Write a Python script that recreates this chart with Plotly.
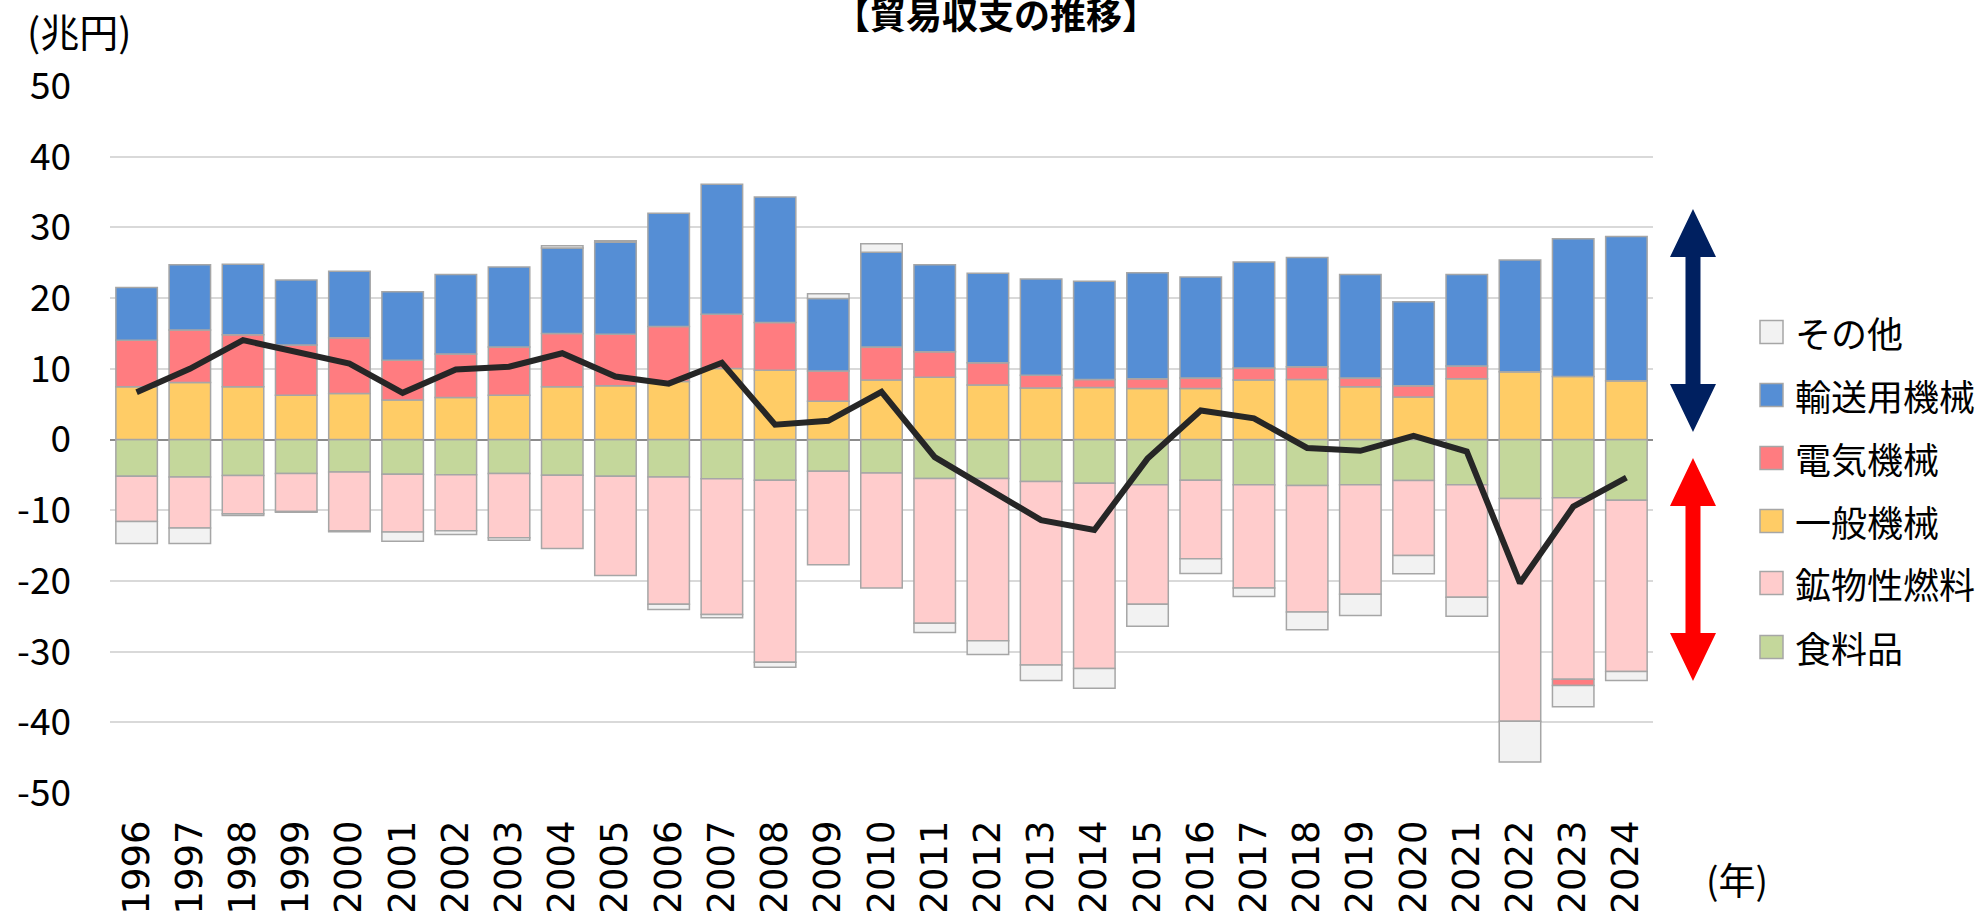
import plotly.graph_objects as go

years = [str(y) for y in range(1996, 2025)]

food = [-5.2, -5.3, -5.1, -4.8, -4.6, -4.9, -5.0, -4.8, -5.05, -5.2, -5.3, -5.55, -5.75, -4.5, -4.75,
        -5.5, -5.5, -5.95, -6.2, -6.4, -5.75, -6.4, -6.5, -6.4, -5.8, -6.4, -8.35, -8.25, -8.6]
fuel = [-6.4, -7.2, -5.4, -5.4, -8.3, -8.2, -7.9, -9.1, -10.35, -14.05, -18.0, -19.2, -25.75, -13.2, -16.25,
        -20.5, -22.95, -25.95, -26.2, -16.9, -11.1, -14.6, -17.9, -15.5, -10.6, -15.9, -31.5, -25.65, -24.2]
general = [7.45, 8.07, 7.45, 6.27, 6.5, 5.57, 5.94, 6.27, 7.45, 7.6, 8.2, 10.05, 9.8, 5.4, 8.4,
           8.8, 7.7, 7.3, 7.35, 7.2, 7.2, 8.4, 8.5, 7.45, 6.0, 8.6, 9.6, 8.9, 8.3]
electric = [6.6, 7.43, 7.35, 7.08, 7.9, 5.63, 6.16, 6.83, 7.55, 7.3, 7.8, 7.65, 6.75, 4.3, 4.7,
            3.6, 3.15, 1.8, 1.15, 1.4, 1.5, 1.7, 1.8, 1.25, 1.6, 1.8, 0.0, -0.9, 0.0]
transport = [7.45, 9.2, 10.0, 9.2, 9.4, 9.7, 11.25, 11.3, 12.1, 13.0, 16.0, 18.4, 17.75, 10.25, 13.4,
             12.3, 12.65, 13.6, 13.9, 15.0, 14.3, 15.0, 15.45, 14.65, 11.9, 12.95, 15.8, 19.5, 20.4]
other = [-3.1, -2.2, -0.25, -0.1, -0.15, -1.3, -0.55, -0.35, 0.3, 0.2, -0.75, -0.45, -0.7, 0.65, 1.2,
         -1.3, -1.95, -2.2, -2.8, -3.1, -2.1, -1.2, -2.5, -3.0, -2.6, -2.7, -5.75, -3.0, -1.3]
balance = [6.7, 10.0, 14.05, 12.3, 10.75, 6.6, 9.9, 10.3, 12.2, 8.9, 7.9, 10.85, 2.1, 2.65, 6.75,
           -2.5, -6.9, -11.4, -12.8, -2.7, 4.1, 3.0, -1.2, -1.6, 0.5, -1.7, -20.3, -9.5, -5.4]

series_names = ["食料品", "鉱物性燃料", "一般機械", "電気機械", "輸送用機械", "その他"]
series_values = [food, fuel, general, electric, transport, other]
series_colors = ["#C4D79B", "#FFCCCC", "#FFCC66", "#FF7C80", "#558ED5", "#F2F2F2"]

title_text = "【貿易収支の推移】"
y_unit = "(兆円)"
x_unit = "(年)"
y_ticks = [50, 40, 30, 20, 10, 0, -10, -20, -30, -40, -50]

W, H = 1981, 911
L, R, T, B = 110, 1653, 86, 793
JP = "Noto Sans CJK JP"

def px_x(px):
    return (px - L) / (R - L)

def px_y(py):
    return (B - py) / (B - T)

fig = go.Figure()
for name, vals, col in zip(series_names, series_values, series_colors):
    fig.add_trace(go.Bar(x=years, y=vals, name=name, marker=dict(color=col, line=dict(color="#A6A6A6", width=1.5)),
                         showlegend=False))
fig.add_trace(go.Scatter(x=years, y=balance, mode="lines", line=dict(color="#262626", width=6),
                         showlegend=False, name="貿易収支"))

shapes = []
annotations = []

# manual legend (reverse order)
leg_y = [332, 395, 458, 521, 583, 647]
for i, idx in enumerate(range(len(series_names) - 1, -1, -1)):
    cy = leg_y[i]
    shapes.append(dict(type="rect", xref="paper", yref="paper",
                       x0=px_x(1760), x1=px_x(1783), y0=px_y(cy + 11.5), y1=px_y(cy - 11.5),
                       fillcolor=series_colors[idx], line=dict(color="#A6A6A6", width=1.5)))
    annotations.append(dict(text=series_names[idx], xref="paper", yref="paper", x=px_x(1793), y=px_y(cy),
                            xanchor="left", yanchor="middle", showarrow=False,
                            font=dict(family=JP, size=36, color="#000000")))

def double_arrow(cx, ytop, ybot, color, hw=23, sw=7.5, hl=48):
    pts = [(cx, ytop), (cx + hw, ytop + hl), (cx + sw, ytop + hl), (cx + sw, ybot - hl), (cx + hw, ybot - hl),
           (cx, ybot), (cx - hw, ybot - hl), (cx - sw, ybot - hl), (cx - sw, ytop + hl), (cx - hw, ytop + hl)]
    path = "M " + " L ".join(f"{px_x(a):.5f},{px_y(b):.5f}" for a, b in pts) + " Z"
    return dict(type="path", xref="paper", yref="paper", path=path, fillcolor=color, line=dict(width=0))

shapes.append(double_arrow(1693, 209, 432, "#002060"))
shapes.append(double_arrow(1693, 458, 681, "#FF0000"))

annotations.append(dict(text=f"<b>{title_text}</b>", xref="paper", yref="paper", x=px_x(996), y=px_y(13),
                        xanchor="center", yanchor="middle", showarrow=False,
                        font=dict(family=JP, size=36, color="#000000")))
annotations.append(dict(text=y_unit, xref="paper", yref="paper", x=px_x(25), y=px_y(30),
                        xanchor="left", yanchor="middle", showarrow=False,
                        font=dict(family=JP, size=39, color="#000000")))
annotations.append(dict(text=x_unit, xref="paper", yref="paper", x=px_x(1737), y=px_y(879),
                        xanchor="center", yanchor="middle", showarrow=False,
                        font=dict(family=JP, size=37, color="#000000")))

fig.update_layout(
    width=W, height=H,
    margin=dict(l=L, r=W - R, t=T, b=H - B, pad=0),
    barmode="relative", bargap=0.22,
    plot_bgcolor="white", paper_bgcolor="white",
    shapes=shapes, annotations=annotations,
    xaxis=dict(type="category", tickangle=-90, showgrid=False, ticks="", automargin=False,
               tickfont=dict(family="DejaVu Sans", size=37, color="#000000"),
               ticklabelstandoff=19),
    yaxis=dict(range=[-50, 50], tickvals=y_ticks, ticktext=[str(v) for v in y_ticks], automargin=False,
               showgrid=True, gridcolor="#D9D9D9", gridwidth=2,
               zeroline=True, zerolinecolor="#8C8C8C", zerolinewidth=2,
               tickfont=dict(family=JP, size=37, color="#000000"), ticks="",
               ticklabelstandoff=38),
    hovermode=False,
)

fig.write_html("out.html", config={"displayModeBar": False},
               post_script="document.body.style.margin='0';document.body.style.overflow='hidden';")
